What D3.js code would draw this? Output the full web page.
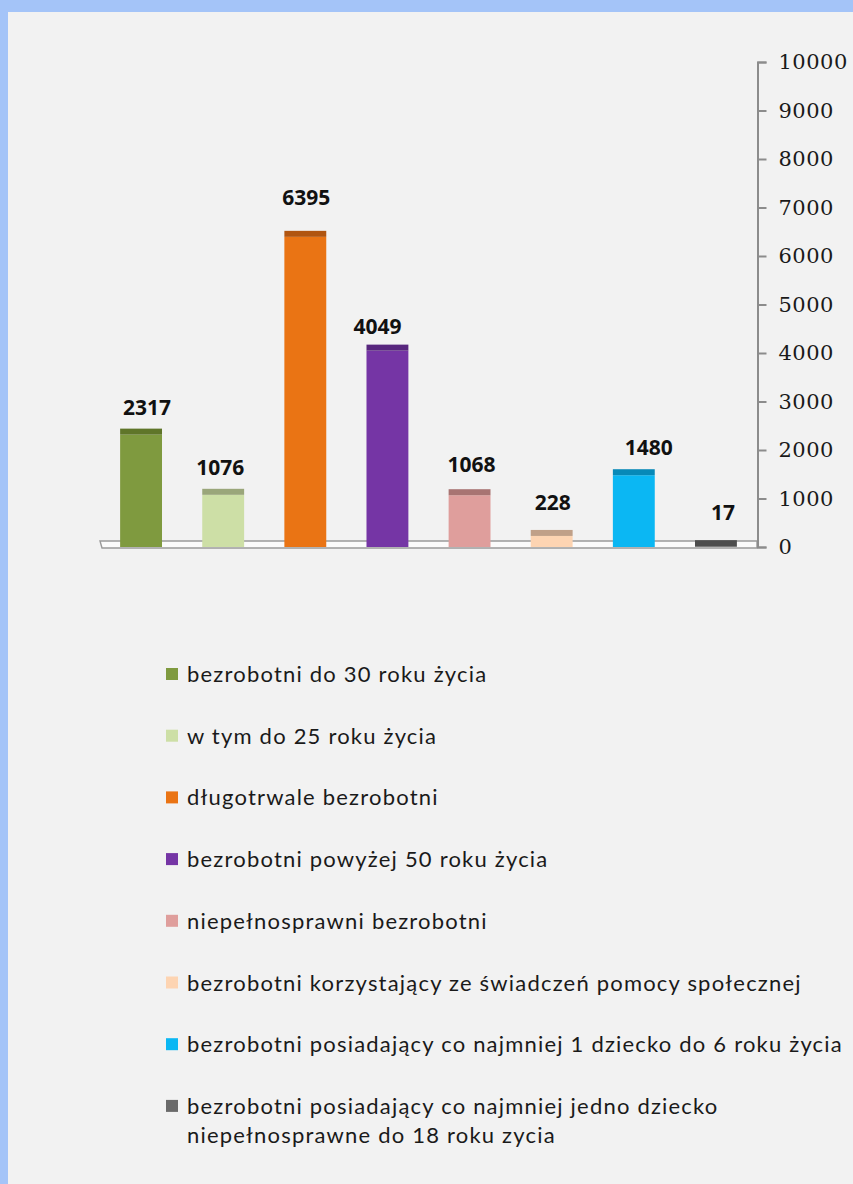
<!DOCTYPE html>
<html>
<head>
<meta charset="utf-8">
<script src="https://cdn.jsdelivr.net/npm/d3@7"></script>
<style>
  body { margin: 0; background: #a4c4f8; }
  svg { display: block; }
</style>
</head>
<body>
<svg id="chart"></svg>
<script>
// data
let categories = [
  "bezrobotni do 30 roku życia",
  "w tym do 25 roku życia",
  "długotrwale bezrobotni",
  "bezrobotni powyżej 50 roku życia",
  "niepełnosprawni bezrobotni",
  "bezrobotni korzystający ze świadczeń pomocy społecznej",
  "bezrobotni posiadający co najmniej 1 dziecko do 6 roku życia",
  "bezrobotni posiadający co najmniej jedno dziecko|niepełnosprawne do 18 roku zycia"
]
let values = [2317, 1076, 6395, 4049, 1068, 228, 1480, 17]
let tickLabels = [0, 1000, 2000, 3000, 4000, 5000, 6000, 7000, 8000, 9000, 10000]

// styling
let fills = ["#7f9a3f", "#cddfa6", "#ea7414", "#7535a5", "#df9e9c", "#fdd4b2", "#0bb7f3", "#6a6a6a"]
let caps  = ["#5f7529", "#9aa67a", "#b15510", "#57267d", "#a87472", "#c0a088", "#0789b8", "#4d4d4d"]
// hand placed labels in the original (offsets from default spot)
let labelDx = [6, -3, 1, -10, 2, 1, 15, 7]
let labelDy = [0, 0, -12, 3, -3, -6, 0, -6]

let W = 853, H = 1184

let svg = d3.select('#chart')
    .attr('width', W)
    .attr('height', H)

svg.append('rect')
    .attr('x', 8).attr('y', 12)
    .attr('width', W - 8).attr('height', H - 12)
    .attr('fill', '#f2f2f2')

let x = d3.scaleBand()
    .domain(d3.range(values.length))
    .range([100, 757])
    .paddingInner(0.49)
    .paddingOuter(0.245)

let y = d3.scaleLinear()
    .domain([0, 10000])
    .range([547, 62])

let capH = 6

// floor
let y0 = y(0)
svg.append('polygon')
    .attr('points', [[100, y0 - 6], [757, y0 - 6], [757, y0 + 1], [102, y0 + 1]].join(' '))
    .attr('fill', '#fbfbfb')
    .attr('stroke', '#9a9a9a')
    .attr('stroke-width', 1.4)

// axis
let axis = svg.append('g')
    .attr('transform', 'translate(757.5,0)')
    .call(d3.axisRight(y).tickValues(tickLabels).tickSize(9).tickPadding(12).tickFormat(d3.format('d')))

axis.selectAll('path, line')
    .attr('stroke', '#8c8c8c')
    .attr('stroke-width', 2)
axis.selectAll('text')
    .attr('fill', '#1a1a1a')
    .style('font-family', '"DejaVu Serif", serif')
    .style('font-size', '21px')
    .style('letter-spacing', '0.5px')

// bars
let bars = svg.selectAll('g.bar')
    .data(values)
    .enter()
    .append('g')
    .attr('class', 'bar')

bars.append('rect')
    .attr('x', function(d, i){ return x(i) })
    .attr('y', function(d){ return y(d) })
    .attr('width', x.bandwidth())
    .attr('height', function(d){ return y0 - y(d) })
    .attr('fill', function(d, i){ return fills[i] })

bars.append('rect')
    .attr('x', function(d, i){ return x(i) })
    .attr('y', function(d){ return y(d) - capH })
    .attr('width', x.bandwidth())
    .attr('height', capH)
    .attr('fill', function(d, i){ return caps[i] })

bars.append('text')
    .attr('x', function(d, i){ return x(i) + x.bandwidth() / 2 + labelDx[i] })
    .attr('y', function(d, i){ return y(d) - capH - 14 + labelDy[i] })
    .attr('text-anchor', 'middle')
    .attr('fill', '#111')
    .style('font-family', '"Open Sans", sans-serif')
    .style('font-weight', 'bold')
    .style('font-size', '21px')
    .text(function(d){ return d })

// legend
let legend = svg.selectAll('g.legend')
    .data(categories)
    .enter()
    .append('g')
    .attr('class', 'legend')
    .attr('transform', function(d, i){ return 'translate(166,' + (682 + i * 61.7) + ')' })

legend.append('rect')
    .attr('x', 0)
    .attr('y', -14)
    .attr('width', 12)
    .attr('height', 12)
    .attr('fill', function(d, i){ return fills[i] })

legend.append('text')
    .attr('x', 21)
    .attr('fill', '#1a1a1a')
    .style('font-family', 'Lato, sans-serif')
    .style('font-size', '22px')
    .style('letter-spacing', '1.2px')
    .selectAll('tspan')
    .data(function(d){ return d.split('|') })
    .enter()
    .append('tspan')
    .attr('x', 21)
    .attr('dy', function(d, j){ return j == 0 ? 0 : 29 })
    .text(function(d){ return d })
</script>
</body>
</html>
